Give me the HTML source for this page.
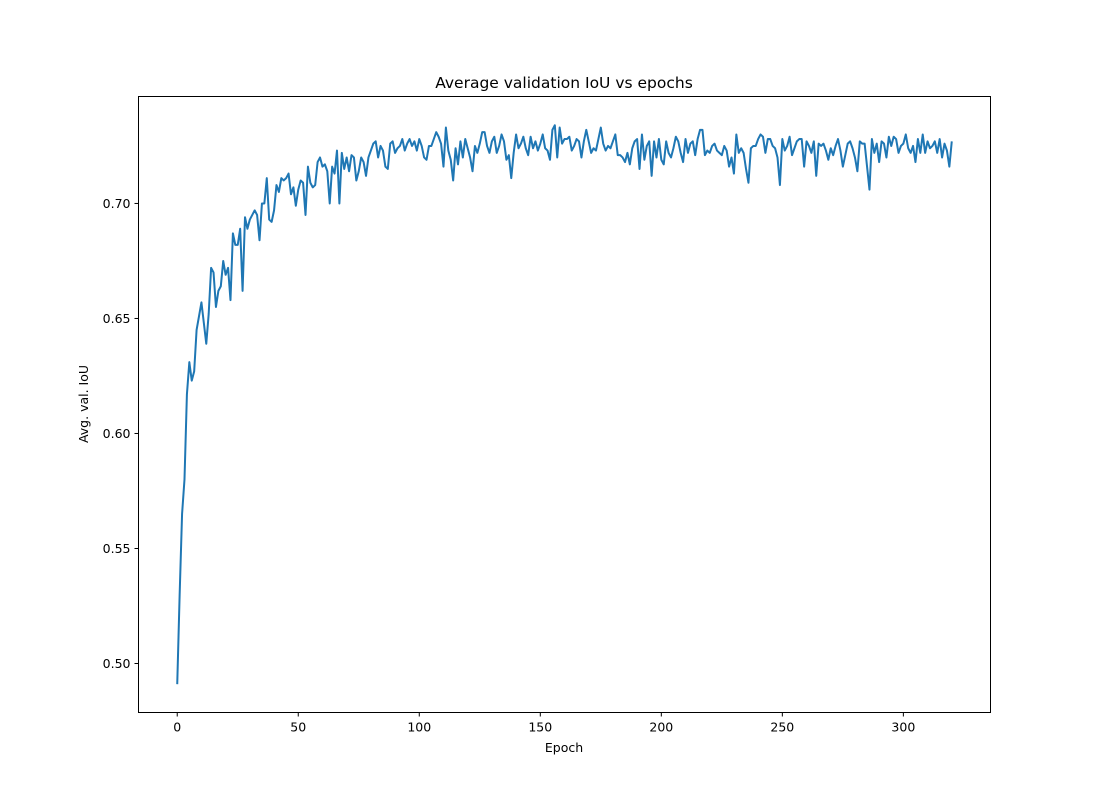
<!DOCTYPE html>
<html><head><meta charset="utf-8">
<style>
body{margin:0;background:#fff;}
svg text{font-family:"DejaVu Sans","Liberation Sans",sans-serif;fill:#000;}
</style></head>
<body>
<svg id="chart" width="1100" height="800" xmlns="http://www.w3.org/2000/svg">
<rect width="1100" height="800" fill="#fff"/>
<g id="ticks"></g>
<path id="line" fill="none" stroke="#1f77b4" stroke-width="2" stroke-linejoin="round"/>
<rect x="138.5" y="96.5" width="852" height="616" fill="none" stroke="#000" stroke-width="1"/>
<text x="564" y="88" font-size="15.5" text-anchor="middle">Average validation IoU vs epochs</text>
<text x="564" y="752" font-size="12.5" text-anchor="middle">Epoch</text>
<text x="88" y="404" font-size="12.5" text-anchor="middle" transform="rotate(-90 88 404)">Avg. val. IoU</text>
</svg>
<script>
const xTicks=[0,50,100,150,200,250,300];
const yTicks=[0.50,0.55,0.60,0.65,0.70];
const yTickLabels=["0.50","0.55","0.60","0.65","0.70"];
const early=[0.491,0.530,0.565,0.580,0.617,0.631,0.623,0.627,0.645,0.651,0.657,0.648,0.639,0.652,0.672,0.670,0.655,0.662,0.664,0.675,0.669,0.672,0.658,0.687,0.682,0.682,0.689,0.662,0.694,0.689,0.693,0.695,0.697,0.695,0.684,0.700,0.700,0.711,0.693,0.692,0.697,0.708,0.705,0.711,0.710,0.711,0.713,0.704,0.707,0.699,0.706,0.710,0.709,0.695,0.716,0.709,0.707,0.708,0.718,0.720,0.716,0.717,0.714,0.700,0.716,0.713,0.723,0.700,0.722,0.715,0.720,0.714,0.721,0.720,0.710,0.714,0.720,0.718,0.712,0.720,0.723];
const late=[0.726,0.727,0.720,0.725,0.723,0.716,0.715,0.726,0.727,0.722,0.724,0.725,0.728,0.723,0.726,0.728,0.725,0.727,0.723,0.728,0.725,0.720,0.719,0.725,0.725,0.728,0.731,0.729,0.726,0.716,0.733,0.723,0.719,0.710,0.724,0.717,0.727,0.720,0.728,0.724,0.720,0.714,0.725,0.722,0.726,0.731,0.731,0.725,0.722,0.727,0.729,0.722,0.725,0.730,0.727,0.719,0.721,0.711,0.722,0.730,0.724,0.726,0.729,0.724,0.721,0.729,0.724,0.727,0.723,0.726,0.730,0.724,0.723,0.719,0.732,0.734,0.720,0.733,0.726,0.728,0.728,0.729,0.723,0.725,0.728,0.727,0.720,0.727,0.732,0.727,0.722,0.724,0.723,0.728,0.733,0.726,0.723,0.725,0.724,0.727,0.730,0.721,0.721,0.720,0.718,0.722,0.717,0.724,0.727,0.728,0.715,0.730,0.719,0.725,0.727,0.712,0.727,0.720,0.728,0.719,0.717,0.727,0.722,0.720,0.724,0.729,0.727,0.722,0.718,0.728,0.722,0.726,0.727,0.721,0.728,0.732,0.732,0.721,0.723,0.722,0.725,0.726,0.723,0.722,0.721,0.725,0.723,0.716,0.720,0.713,0.730,0.722,0.724,0.722,0.715,0.709,0.724,0.725,0.725,0.728,0.730,0.729,0.722,0.728,0.728,0.725,0.724,0.720,0.708,0.728,0.723,0.725,0.729,0.721,0.724,0.727,0.728,0.728,0.716,0.727,0.725,0.722,0.727,0.712,0.726,0.725,0.726,0.723,0.719,0.724,0.721,0.725,0.728,0.723,0.716,0.721,0.726,0.727,0.724,0.720,0.714,0.727,0.726,0.726,0.716,0.706,0.728,0.722,0.726,0.718,0.727,0.726,0.720,0.729,0.725,0.729,0.728,0.722,0.725,0.726,0.730,0.724,0.722,0.725,0.718,0.728,0.722,0.730,0.722,0.727,0.724,0.725,0.727,0.722,0.728,0.720,0.726,0.723,0.716,0.727];
const values=early.concat(late);
const X0=138.5,X1=990.5,Y0=96.5,Y1=712.5;
const xMin=-16,xMax=336,yMin=0.4787,yMax=0.7465;
function sx(v){return X0+(v-xMin)/(xMax-xMin)*(X1-X0);}
function sy(v){return Y1-(v-yMin)/(yMax-yMin)*(Y1-Y0);}
const NS="http://www.w3.org/2000/svg";
const g=document.getElementById('ticks');
xTicks.forEach(t=>{
  const x=sx(t);
  const l=document.createElementNS(NS,'line');
  l.setAttribute('x1',x);l.setAttribute('x2',x);l.setAttribute('y1',Y1);l.setAttribute('y2',Y1+4);l.setAttribute('stroke','#000');
  
  
  g.appendChild(l);
  const tx=document.createElementNS(NS,'text');
  tx.setAttribute('x',x);tx.setAttribute('y',Y1+19);tx.setAttribute('font-size','12.5');tx.setAttribute('text-anchor','middle');
  tx.textContent=t;
  
  
  g.appendChild(tx);
});
yTicks.forEach((t,i)=>{
  const y=sy(t);
  const l=document.createElementNS(NS,'line');
  l.setAttribute('x1',X0-4);l.setAttribute('x2',X0);l.setAttribute('y1',y);l.setAttribute('y2',y);l.setAttribute('stroke','#000');
  
  
  g.appendChild(l);
  const tx=document.createElementNS(NS,'text');
  tx.setAttribute('x',X0-8);tx.setAttribute('y',y+4.5);tx.setAttribute('font-size','12.5');tx.setAttribute('text-anchor','end');
  tx.textContent=yTickLabels[i];
  
  
  g.appendChild(tx);
});
document.getElementById('line').setAttribute('d',values.map((v,i)=>(i?'L':'M')+sx(i).toFixed(2)+','+sy(v).toFixed(2)).join(''));
</script>
</body></html>
